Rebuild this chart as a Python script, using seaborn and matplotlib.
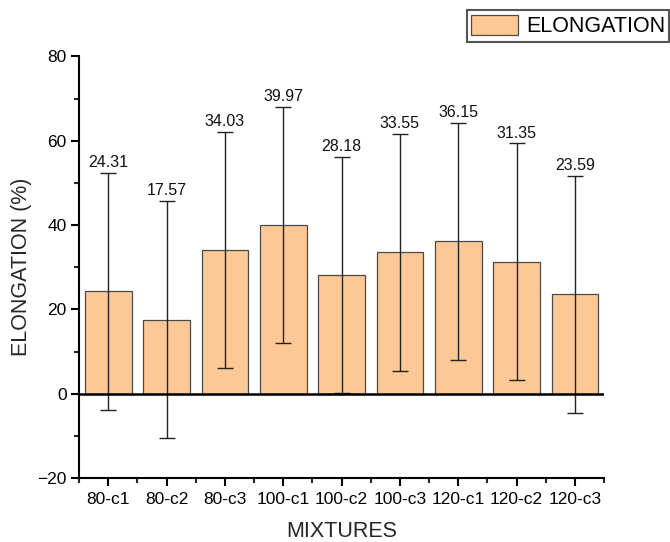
import matplotlib
matplotlib.use("Agg")
import matplotlib.pyplot as plt
import seaborn as sns
import pandas as pd

# Values
mixtures = ["80-c1", "80-c2", "80-c3", "100-c1", "100-c2", "100-c3", "120-c1", "120-c2", "120-c3"]
elongation = [24.31, 17.57, 34.03, 39.97, 28.18, 33.55, 36.15, 31.35, 23.59]
elongation_err = [28.1, 28.1, 28.0, 28.0, 28.0, 28.1, 28.1, 28.0, 28.1]

sns.set_theme(style="ticks")
plt.rcParams["font.family"] = ["Liberation Sans", "DejaVu Sans"]
plt.rcParams["axes.linewidth"] = 1.5

df = pd.DataFrame({"mixture": mixtures, "elongation": elongation, "err": elongation_err})

fig = plt.figure(figsize=(6.7, 5.42), dpi=100)
ax = fig.add_axes([0.118, 0.118, 0.7835, 0.778])

sns.barplot(
    data=df, x="mixture", y="elongation", order=mixtures,
    color="#fcc896", saturation=1, width=0.8, edgecolor="#4a4a4a",
    linewidth=0.9, errorbar=None, label="ELONGATION", ax=ax,
)

ax.errorbar(
    range(len(mixtures)), df["elongation"], yerr=df["err"],
    fmt="none", ecolor="#222222", elinewidth=1.0, capsize=5.5, capthick=1.0, zorder=3,
)

# value labels above the error caps
for i, (v, e) in enumerate(zip(df["elongation"], df["err"])):
    ax.annotate(f"{v:.2f}", (i, v + e), xytext=(0, 2), textcoords="offset points",
                ha="center", va="bottom", fontsize=11.5, color="#111111")

ax.axhline(0, color="black", linewidth=1.8, zorder=4)

ax.set_xlim(-0.5, len(mixtures) - 0.5)
ax.set_ylim(-20, 80)
ax.set_yticks([-20, 0, 20, 40, 60, 80])
ax.set_yticks([-10, 10, 30, 50, 70], minor=True)
ax.set_xticks([i + 0.5 for i in range(-1, len(mixtures))], minor=True)

ax.tick_params(axis="both", which="major", direction="out", length=6, width=1.5,
               labelsize=12.5, colors="black", pad=4)
ax.tick_params(axis="both", which="minor", direction="out", length=3.5, width=1.5)
ax.tick_params(axis="y", labelsize=12.5, pad=3)

ax.set_xlabel("MIXTURES", fontsize=15.5, labelpad=10)
ax.set_ylabel("ELONGATION (%)", fontsize=15.5, labelpad=4)

for side in ["top", "right"]:
    ax.spines[side].set_visible(False)
for side in ["left", "bottom"]:
    ax.spines[side].set_color("black")

leg = ax.legend(
    loc="upper right", bbox_to_anchor=(0.999, 0.981), bbox_transform=fig.transFigure,
    fontsize=15.5, frameon=True, fancybox=False, framealpha=1, edgecolor="#555555",
    handlelength=2.2, handleheight=1.1, handletextpad=0.35, borderpad=0.2,
    borderaxespad=0,
)
leg.get_frame().set_linewidth(1.5)
for t in leg.get_texts():
    t.set_color("black")

fig.savefig("out.png", dpi=100)
